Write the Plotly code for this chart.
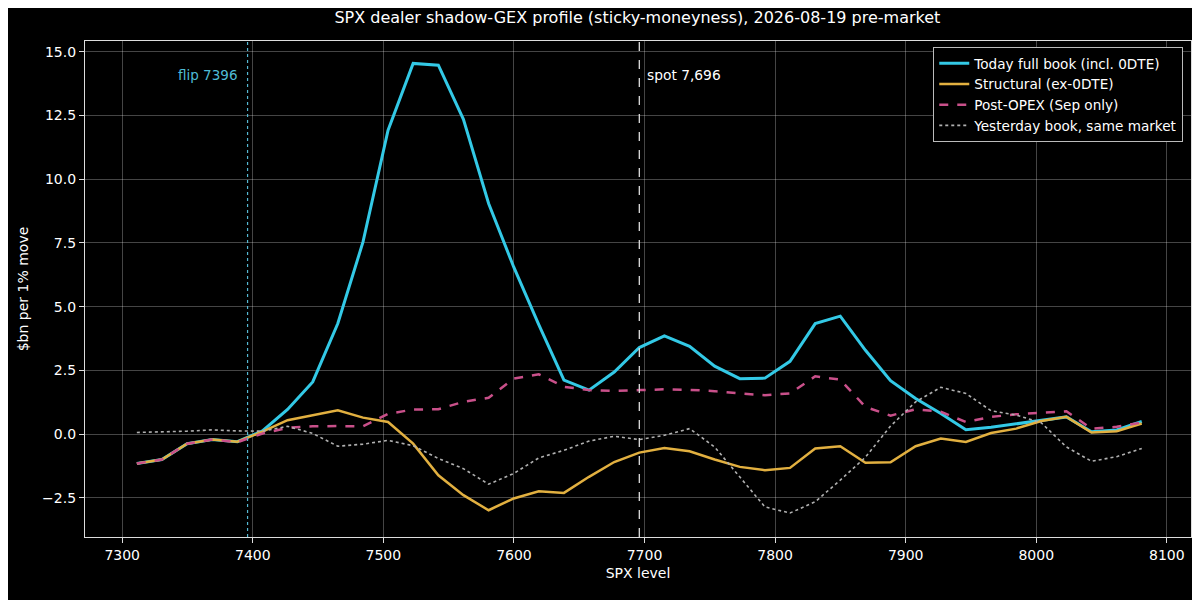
import plotly.graph_objects as go

# strike grid (sticky-moneyness, 95%..105% of spot)
spx_level = [7311.2, 7330.4, 7349.7, 7368.9, 7388.2, 7407.4, 7426.6, 7445.9, 7465.1, 7484.4,
             7503.6, 7522.8, 7542.1, 7561.3, 7580.6, 7599.8, 7619.0, 7638.3, 7657.5, 7676.8,
             7696.0, 7715.2, 7734.5, 7753.7, 7773.0, 7792.2, 7811.4, 7830.7, 7849.9, 7869.2,
             7888.4, 7907.6, 7926.9, 7946.1, 7965.4, 7984.6, 8003.8, 8023.1, 8042.3, 8061.6,
             8080.8]

today_full = [-1.15, -0.99, -0.37, -0.21, -0.29, 0.13, 0.97, 2.05, 4.34, 7.54,
              11.92, 14.54, 14.47, 12.35, 9.05, 6.56, 4.30, 2.12, 1.73, 2.44,
              3.40, 3.86, 3.45, 2.67, 2.18, 2.20, 2.86, 4.34, 4.63, 3.29,
              2.10, 1.40, 0.81, 0.18, 0.27, 0.40, 0.55, 0.68, 0.10, 0.17,
              0.50]

structural = [-1.15, -0.99, -0.37, -0.21, -0.29, 0.10, 0.55, 0.75, 0.94, 0.65,
              0.48, -0.37, -1.61, -2.39, -2.98, -2.52, -2.24, -2.30, -1.67, -1.09,
              -0.72, -0.54, -0.67, -0.99, -1.28, -1.41, -1.32, -0.56, -0.47, -1.12,
              -1.10, -0.47, -0.17, -0.30, 0.05, 0.22, 0.52, 0.68, 0.07, 0.12,
              0.42]

post_opex = [-1.15, -0.99, -0.37, -0.21, -0.31, 0.03, 0.25, 0.31, 0.32, 0.31,
             0.80, 0.97, 0.98, 1.27, 1.43, 2.18, 2.35, 1.86, 1.73, 1.70,
             1.73, 1.76, 1.74, 1.69, 1.60, 1.53, 1.60, 2.27, 2.14, 1.07,
             0.73, 0.98, 0.88, 0.48, 0.68, 0.78, 0.84, 0.90, 0.22, 0.29,
             0.46]

yesterday = [0.07, 0.09, 0.12, 0.17, 0.13, 0.12, 0.31, 0.03, -0.47, -0.39,
             -0.24, -0.45, -0.95, -1.35, -1.96, -1.54, -0.93, -0.63, -0.27, -0.08,
             -0.21, -0.04, 0.22, -0.50, -1.67, -2.85, -3.09, -2.65, -1.80, -0.90,
             0.32, 1.27, 1.84, 1.60, 0.92, 0.75, 0.45, -0.50, -1.06, -0.88,
             -0.56]

spot = 7696
flip = 7396

CYAN = "#33c9e6"
GOLD = "#e2b040"
PINK = "#c9508a"
GREY = "#b0b0b0"

fig = go.Figure()
fig.add_trace(go.Scatter(x=spx_level, y=today_full, mode="lines", name="Today full book (incl. 0DTE)",
                         line=dict(color=CYAN, width=3)))
fig.add_trace(go.Scatter(x=spx_level, y=structural, mode="lines", name="Structural (ex-0DTE)",
                         line=dict(color=GOLD, width=2.5)))
fig.add_trace(go.Scatter(x=spx_level, y=post_opex, mode="lines", name="Post-OPEX (Sep only)",
                         line=dict(color=PINK, width=2.5, dash="dash")))
fig.add_trace(go.Scatter(x=spx_level, y=yesterday, mode="lines", name="Yesterday book, same market",
                         line=dict(color=GREY, width=1.6, dash="dot")))

# flip / spot markers
fig.add_vline(x=flip, line=dict(color="#55b9d3", width=1.2, dash="dot"))
fig.add_vline(x=spot, line=dict(color="#dddddd", width=1.3, dash="dash"))
fig.add_annotation(x=flip, y=14.08, text="flip 7396", showarrow=False, xanchor="right", xshift=-9,
                   font=dict(color="#4fbcd6", size=13.5))
fig.add_annotation(x=spot, y=14.08, text="spot 7,696", showarrow=False, xanchor="left", xshift=6,
                   font=dict(color="#ffffff", size=13.8))

axis_style = dict(showgrid=True, gridcolor="rgba(255,255,255,0.27)", gridwidth=1,
                  showline=True, linecolor="#dddddd", linewidth=1.2, mirror=True,
                  ticks="outside", ticklen=5, tickcolor="#dddddd", zeroline=False,
                  tickfont=dict(size=14, color="#ffffff"))

fig.update_xaxes(range=[7271.5, 8118.5], tick0=7300, dtick=100,
                 title=dict(text="SPX level", font=dict(size=14), standoff=6), **axis_style)
fig.update_yaxes(range=[-4.03, 15.42], tick0=0, dtick=2.5, tickformat=".1f",
                 title=dict(text="$bn per 1% move", font=dict(size=14), standoff=10), **axis_style)

# page body adds an 8px offset, so the figure is sized to fit the 1200x600 window
fig.update_layout(
    width=1192, height=592,
    paper_bgcolor="#000000", plot_bgcolor="#000000",
    font=dict(family="DejaVu Sans", color="#ffffff", size=14),
    title=dict(text="SPX dealer shadow-GEX profile (sticky-moneyness), 2026-08-19 pre-market",
               x=0.528, xanchor="center", y=0.984, yanchor="middle", font=dict(size=16)),
    margin=dict(l=77, r=9, t=33, b=63),
    legend=dict(x=0.993, y=0.988, xanchor="right", yanchor="top",
                bgcolor="#000000", bordercolor="#bbbbbb", borderwidth=1,
                font=dict(size=13.6), tracegroupgap=0),
)

fig.write_html("out.html")
